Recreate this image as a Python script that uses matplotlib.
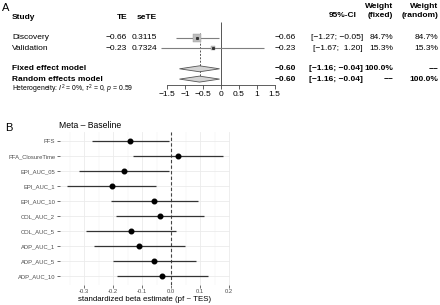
import matplotlib
matplotlib.use("Agg")
import matplotlib.pyplot as plt
from matplotlib.transforms import blended_transform_factory
from matplotlib.ticker import FuncFormatter, FixedLocator
import numpy as np

# ---------------- Panel A data ----------------
studies = ["Discovery", "Validation"]
te = [-0.66, -0.23]
se_te = [0.3115, 0.7324]
ci_low = [-1.27, -1.67]
ci_high = [-0.05, 1.20]
weight_fixed = [84.7, 15.3]
weight_random = [84.7, 15.3]
model_names = ["Fixed effect model", "Random effects model"]
pooled_te = [-0.60, -0.60]
pooled_low = [-1.16, -1.16]
pooled_high = [-0.04, -0.04]
pooled_w_fixed = ["100.0%", "\u2212\u2212"]
pooled_w_random = ["\u2212\u2212", "100.0%"]
a_ticks = [-1.5, -1, -0.5, 0, 0.5, 1, 1.5]
heterogeneity = r"Heterogeneity: $I^2$ = 0%, $\tau^2$ = 0, $p$ = 0.59"

# ---------------- Panel B data ----------------
b_labels = ["PFS", "PFA_ClosureTime", "EPI_AUC_05", "EPI_AUC_1", "EPI_AUC_10",
            "COL_AUC_2", "COL_AUC_5", "ADP_AUC_1", "ADP_AUC_5", "ADP_AUC_10"]
b_est = [-0.141, 0.023, -0.161, -0.205, -0.057, -0.038, -0.138, -0.109, -0.057, -0.030]
b_low = [-0.274, -0.132, -0.316, -0.357, -0.207, -0.190, -0.293, -0.264, -0.199, -0.187]
b_high = [-0.008, 0.178, -0.006, -0.053, 0.093, 0.114, 0.018, 0.047, 0.085, 0.126]
b_ticks = [-0.3, -0.2, -0.1, 0.0, 0.1, 0.2]
b_title = "Meta \u2013 Baseline"
b_xlabel = "standardized beta estimate (pf ~ TES)"

plt.rcParams['font.family'] = ['Liberation Sans', 'DejaVu Sans']
plt.rcParams['mathtext.fontset'] = 'custom'
plt.rcParams['mathtext.rm'] = 'Liberation Sans'
plt.rcParams['mathtext.it'] = 'Liberation Sans:italic'
plt.rcParams['mathtext.bf'] = 'Liberation Sans:bold'

W, H = 440, 305
fig = plt.figure(figsize=(W / 100, H / 100), dpi=100)


def fx(px):
    return px / W


def m(s):
    return s.replace("-", "\u2212")


# ---------------- Panel A ----------------
row0_px, row_step = 17.3, 10.3
axA = fig.add_axes([fx(149.4), 1 - 110 / H, fx(143.2), 110 / H])
axA.set_xlim(-2, 2)
axA.set_ylim((110 - row0_px) / row_step, -row0_px / row_step)
axA.patch.set_alpha(0)
for s in ['top', 'right', 'left']:
    axA.spines[s].set_visible(False)
axis_row = (84.5 - row0_px) / row_step
axA.spines['bottom'].set_position(('data', axis_row))
axA.spines['bottom'].set_bounds(min(a_ticks), max(a_ticks))
axA.spines['bottom'].set_linewidth(0.6)
axA.spines['bottom'].set_color('#444444')
axA.set_yticks([])
axA.set_xticks(a_ticks)
axA.xaxis.set_major_formatter(FuncFormatter(lambda v, p: m(f"{v:g}")))
axA.tick_params(axis='x', length=3, width=0.6, color='#444444', labelsize=6, pad=2)

study_rows = [2, 3]
model_rows = [5, 6]

axA.vlines(0, 0.45, axis_row, color='#555555', lw=0.7)
axA.vlines(pooled_te[0], 1.5, 6.0, color='#555555', lw=0.7, linestyles=(0, (2, 1.5)))
axA.hlines(study_rows, ci_low, ci_high, color='#7f7f7f', lw=0.8)
wmax = max(weight_fixed)
for r, t, w in zip(study_rows, te, weight_fixed):
    axA.plot([t], [r], 's', ms=6.0 * np.sqrt(w / wmax), mfc='#bdbdbd', mec='#9a9a9a', mew=0.3)
    axA.plot([t], [r], 's', ms=1.2, color='#333333')
dh = 0.29
for r, t, lo, hi in zip(model_rows, pooled_te, pooled_low, pooled_high):
    axA.fill([lo, t, hi, t], [r, r - dh, r, r + dh], facecolor='#d4d4d4',
             edgecolor='#555555', lw=0.6, zorder=3)

tr = blended_transform_factory(fig.transFigure, axA.transData)
fs = 6
# headers
axA.text(fx(12), 0, "Study", transform=tr, fontsize=fs, fontweight='bold', va='center')
axA.text(fx(127), 0, "TE", transform=tr, fontsize=fs, fontweight='bold', va='center', ha='right')
axA.text(fx(157), 0, "seTE", transform=tr, fontsize=fs, fontweight='bold', va='center', ha='right')
axA.text(fx(357), -0.22, "95%-CI", transform=tr, fontsize=fs, fontweight='bold', va='center', ha='right')
axA.text(fx(393), -1.0, "Weight", transform=tr, fontsize=fs, fontweight='bold', va='center', ha='right')
axA.text(fx(393), -0.22, "(fixed)", transform=tr, fontsize=fs, fontweight='bold', va='center', ha='right')
axA.text(fx(438), -1.0, "Weight", transform=tr, fontsize=fs, fontweight='bold', va='center', ha='right')
axA.text(fx(438), -0.22, "(random)", transform=tr, fontsize=fs, fontweight='bold', va='center', ha='right')

for r, name, t, s_, lo, hi, wf, wr in zip(study_rows, studies, te, se_te, ci_low, ci_high,
                                         weight_fixed, weight_random):
    axA.text(fx(12), r, name, transform=tr, fontsize=fs, va='center')
    axA.text(fx(127), r, m(f"{t:.2f}"), transform=tr, fontsize=fs, va='center', ha='right')
    axA.text(fx(157), r, f"{s_:.4f}", transform=tr, fontsize=fs, va='center', ha='right')
    axA.text(fx(296), r, m(f"{t:.2f}"), transform=tr, fontsize=fs, va='center', ha='right')
    axA.text(fx(363), r, m(f"[{lo:.2f}; {hi:5.2f}]"), transform=tr, fontsize=fs, va='center', ha='right')
    axA.text(fx(393), r, f"{wf:.1f}%", transform=tr, fontsize=fs, va='center', ha='right')
    axA.text(fx(438), r, f"{wr:.1f}%", transform=tr, fontsize=fs, va='center', ha='right')

for r, name, t, lo, hi, wf, wr in zip(model_rows, model_names, pooled_te, pooled_low, pooled_high,
                                     pooled_w_fixed, pooled_w_random):
    kw = dict(transform=tr, fontsize=fs, va='center', fontweight='bold')
    axA.text(fx(12), r, name, **kw)
    axA.text(fx(296), r, m(f"{t:.2f}"), ha='right', **kw)
    axA.text(fx(363), r, m(f"[{lo:.2f}; {hi:.2f}]"), ha='right', **kw)
    axA.text(fx(393), r, wf, ha='right', **kw)
    axA.text(fx(438), r, wr, ha='right', **kw)

axA.text(fx(12), 7, heterogeneity, transform=tr, fontsize=4.95, va='center')

fig.text(fx(2), 1 - 8 / H, "A", fontsize=8, va='center', ha='left')

# ---------------- Panel B ----------------
axB = fig.add_axes([fx(60), 1 - 285 / H, fx(170), 153 / H])
ypos = np.arange(len(b_labels))
axB.set_xlim(-0.3828, 0.2034)
axB.set_ylim(len(b_labels) - 1 + 0.6, -0.6)
for s in axB.spines.values():
    s.set_visible(False)
axB.set_xticks(b_ticks)
minor = [(a + b) / 2 for a, b in zip(b_ticks[:-1], b_ticks[1:])] + [b_ticks[0] - 0.05]
axB.xaxis.set_minor_locator(FixedLocator(minor))
axB.xaxis.set_major_formatter(FuncFormatter(lambda v, p: f"{v:.1f}"))
axB.set_yticks(ypos)
axB.set_yticklabels(b_labels)
axB.tick_params(which='major', length=2, width=0.5, color='#333333', labelsize=4.2,
                labelcolor='#4d4d4d', pad=1.5)
axB.tick_params(axis='x', which='major', pad=1.0)
axB.tick_params(which='minor', length=0)
axB.set_axisbelow(True)
axB.grid(which='major', color='#ebebeb', lw=0.6)
axB.grid(which='minor', axis='x', color='#f2f2f2', lw=0.35)

axB.axvline(0, color='#444444', lw=0.8, ls=(0, (3, 2)))
axB.hlines(ypos, b_low, b_high, color='#333333', lw=0.9)
axB.plot(b_est, ypos, 'o', color='black', ms=3.3)

axB.set_xlabel(b_xlabel, fontsize=5.7, labelpad=1.0)
fig.text(fx(59), 1 - 125 / H, b_title, fontsize=6.2, va='center', ha='left')
fig.text(fx(5), 1 - 128 / H, "B", fontsize=8, va='center', ha='left')

fig.savefig("out.png", dpi=100)
